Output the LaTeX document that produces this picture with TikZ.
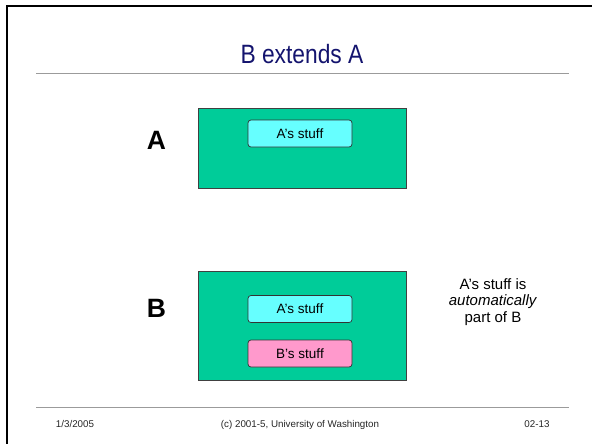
\documentclass[tikz,border=0pt]{standalone}
\usepackage{fontspec}
\setmainfont{Liberation Sans}
\usetikzlibrary{positioning}
\definecolor{slidenavy}{RGB}{20,20,110}
\definecolor{classgreen}{RGB}{0,204,153}
\definecolor{stuffcyan}{RGB}{102,255,255}
\definecolor{stuffpink}{RGB}{255,153,204}
\definecolor{rulegray}{RGB}{155,155,155}

\begin{document}
\begin{tikzpicture}[
  x=1pt, y=-1pt,
  classbox/.style={draw=black!75, fill=classgreen, line width=0.9pt, minimum width=208pt, inner sep=0pt},
  stuffbox/.style={draw=black!80, rounded corners=3pt, line width=0.7pt, minimum width=104pt, minimum height=27pt, inner sep=0pt, font=\fontsize{13.5}{16}\selectfont},
  biglabel/.style={font=\fontsize{26.5}{30}\selectfont\bfseries, inner sep=0pt, anchor=base},
  footer/.style={font=\fontsize{9.8}{12}\selectfont, text=black!85, inner sep=0pt, anchor=base},
  sliderule/.style={draw=rulegray, line width=1.2pt}
]
\useasboundingbox (0,0) rectangle (592,444);
% slide frame and rules
\draw[line width=2pt] (7,444) -- (7,6.5) -- (592,6.5);
\draw[sliderule] (36,73.5) -- (569,73.5);
\draw[sliderule] (36,407.5) -- (569,407.5);

\node[anchor=base, text=slidenavy, inner sep=0pt, font=\fontsize{26.5}{30}\selectfont] (title) at (302,64) {\scalebox{0.86}[1]{B extends A}};

% class A
\node[classbox, minimum height=80pt] (boxa) at (302,148) {};
\node[stuffbox, fill=stuffcyan] (astuffa) at (300,133.5) {A's stuff};
\node[biglabel] (labela) at (156.5,149) {A};

% class B
\node[classbox, minimum height=109pt] (boxb) at (302,325.5) {};
\node[stuffbox, fill=stuffcyan] (astuffb) at (300,309) {A's stuff};
\node[stuffbox, fill=stuffpink] (bstuffb) at (300,353.5) {B's stuff};
\node[biglabel] (labelb) at (156.5,317.5) {B};

\node[align=center, inner sep=0pt, font=\fontsize{15}{16.5}\selectfont] (note) at (493,302) {A's stuff is\\\textit{automatically}\\part of B};

% footer
\node[footer] (date) at (75,427) {1/3/2005};
\node[footer] (copy) at (300,427) {(c) 2001-5, University of Washington};
\node[footer] (page) at (537,427) {02-13};
\end{tikzpicture}
\end{document}
